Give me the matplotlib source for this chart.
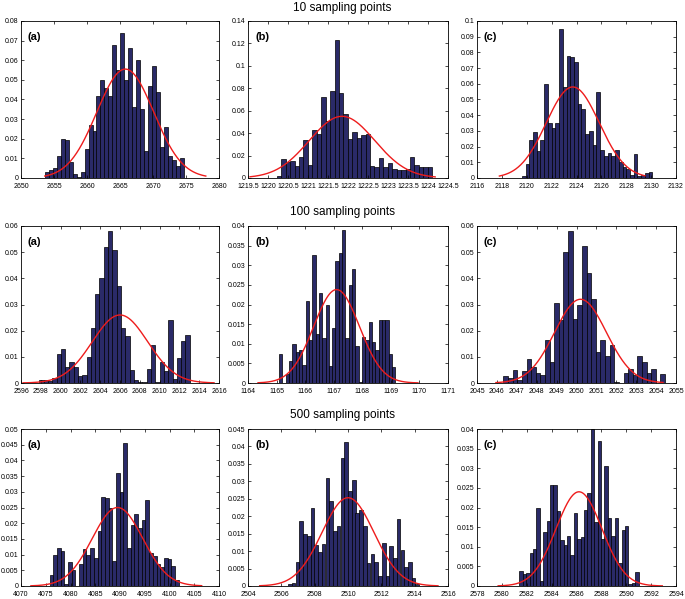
import numpy as np
import matplotlib
matplotlib.use("Agg")
import matplotlib.pyplot as plt

plt.rcParams['font.family'] = ['Liberation Sans', 'DejaVu Sans']

row_titles = ["10 sampling points", "100 sampling points", "500 sampling points"]
panel_labels = ["(a)", "(b)", "(c)"]

# ---- Row 1: 10 sampling points ----
r1a_start, r1a_width = 2653.6, 0.603
r1a_heights = [0.003, 0.004, 0.005, 0.011, 0.020, 0.0195, 0.008, 0.002, 0.0005, 0.003,
               0.015, 0.027, 0.024, 0.042, 0.050, 0.046, 0.042, 0.068, 0.055, 0.074,
               0.050, 0.066, 0.036, 0.060, 0.035, 0.014, 0.047, 0.057, 0.044, 0.016,
               0.026, 0.011, 0.009, 0.006, 0.010]
r1a_fit = dict(mean=2665.8, sd=4.3, peak=0.0555, x0=2653.6, x1=2678.0)
r1a_xlim, r1a_xticks = (2650, 2680), [2650, 2655, 2660, 2665, 2670, 2675, 2680]
r1a_ylim, r1a_ystep = 0.08, 0.01

r1b_start, r1b_width = 1220.22, 0.111
r1b_heights = [0.002, 0.017, 0.014, 0.015, 0.011, 0.019, 0.034, 0.012, 0.043, 0.039,
               0.072, 0.051, 0.078, 0.123, 0.076, 0.057, 0.035, 0.041, 0.036, 0.038,
               0.039, 0.011, 0.010, 0.018, 0.010, 0.013, 0.008, 0.007, 0.007, 0.008,
               0.019, 0.012, 0.010, 0.010, 0.010]
r1b_fit = dict(mean=1221.85, sd=0.82, peak=0.055, x0=1219.55, x1=1224.18)
r1b_xlim, r1b_xticks = (1219.5, 1224.5), [1219.5, 1220, 1220.5, 1221, 1221.5, 1222,
                                          1222.5, 1223, 1223.5, 1224, 1224.5]
r1b_ylim, r1b_ystep = 0.14, 0.02

r1c_start, r1c_width = 2119.6, 0.3
r1c_heights = [0.001, 0.009, 0.024, 0.029, 0.017, 0.024, 0.060, 0.035, 0.032, 0.035,
               0.095, 0.058, 0.078, 0.077, 0.074, 0.047, 0.044, 0.028, 0.030, 0.021,
               0.055, 0.018, 0.014, 0.016, 0.014, 0.018, 0.010, 0.007, 0.006, 0.002,
               0.015, 0.001, 0.002, 0.003, 0.004]
r1c_fit = dict(mean=2123.7, sd=2.13, peak=0.058, x0=2117.8, x1=2129.5)
r1c_xlim, r1c_xticks = (2116, 2132), list(range(2116, 2133, 2))
r1c_ylim, r1c_ystep = 0.1, 0.01

# ---- Row 2: 100 sampling points ----
r2a_start, r2a_width = 2597.85, 0.434
r2a_heights = [0.001, 0.001, 0.0008, 0.002, 0.011, 0.013, 0.006, 0.008, 0.006, 0.0025,
               0.003, 0.010, 0.021, 0.034, 0.040, 0.052, 0.058, 0.051, 0.037, 0.021,
               0.018, 0.005, 0.001, 0.0005, 0.0005, 0.0055, 0.0145, 0.0005, 0.008, 0.0045,
               0.024, 0.0015, 0.0095, 0.016, 0.0185]
r2a_fit = dict(mean=2606.0, sd=2.8, peak=0.026, x0=2596.2, x1=2615.5)
r2a_xlim, r2a_xticks = (2596, 2616), list(range(2596, 2617, 2))
r2a_ylim, r2a_ystep = 0.06, 0.01

r2b_start, r2b_width = 1165.09, 0.116
r2b_heights = [0.0075, 0.0, 0.0023, 0.0055, 0.010, 0.0078, 0.0083, 0.0047, 0.021, 0.011,
               0.0325, 0.0125, 0.023, 0.0115, 0.020, 0.0043, 0.014, 0.031, 0.033, 0.039,
               0.0115, 0.025, 0.029, 0.0095, 0.0003, 0.0118, 0.011, 0.0155, 0.0105, 0.0085,
               0.016, 0.016, 0.016, 0.0075, 0.004]
r2b_fit = dict(mean=1167.1, sd=0.8, peak=0.0238, x0=1164.35, x1=1169.95)
r2b_xlim, r2b_xticks = (1164, 1171), list(range(1164, 1172))
r2b_ylim, r2b_ystep = 0.04, 0.005

r2c_start, r2c_width = 2046.33, 0.232
r2c_heights = [0.0025, 0.002, 0.005, 0.001, 0.0045, 0.009, 0.006, 0.004, 0.003, 0.0165,
               0.008, 0.0305, 0.024, 0.050, 0.058, 0.0245, 0.030, 0.0525, 0.042, 0.032,
               0.012, 0.0165, 0.0105, 0.0145, 0.0005, 0.0, 0.004, 0.0055, 0.003, 0.0105,
               0.008, 0.004, 0.0055, 0.0, 0.0035]
r2c_fit = dict(mean=2050.2, sd=1.3, peak=0.032, x0=2045.95, x1=2054.35)
r2c_xlim, r2c_xticks = (2045, 2055), list(range(2045, 2056))
r2c_ylim, r2c_ystep = 0.06, 0.01

# ---- Row 3: 500 sampling points ----
r3a_start, r3a_width = 4075.77, 0.745
r3a_heights = [0.0035, 0.010, 0.012, 0.0112, 0.0005, 0.0075, 0.0052, 0.0, 0.007, 0.0118,
               0.010, 0.012, 0.009, 0.0175, 0.0285, 0.028, 0.025, 0.008, 0.036, 0.0298,
               0.0455, 0.012, 0.0195, 0.023, 0.0185, 0.021, 0.0275, 0.0105, 0.0095, 0.007,
               0.006, 0.009, 0.0085, 0.0065, 0.002]
r3a_fit = dict(mean=4089.5, sd=5.1, peak=0.025, x0=4072.0, x1=4106.5)
r3a_xlim, r3a_xticks = (4070, 4110), list(range(4070, 4111, 5))
r3a_ylim, r3a_ystep = 0.05, 0.005

r3b_start, r3b_width = 2506.4, 0.225
r3b_heights = [0.0005, 0.001, 0.0068, 0.0185, 0.0148, 0.0142, 0.0225, 0.0118, 0.0098, 0.012,
               0.031, 0.0245, 0.0158, 0.0173, 0.0368, 0.0413, 0.0272, 0.0305, 0.021, 0.0218,
               0.0173, 0.0067, 0.0093, 0.007, 0.0028, 0.0122, 0.0028, 0.0115, 0.008, 0.0192,
               0.0102, 0.0055, 0.0068, 0.0022, 0.0005]
r3b_fit = dict(mean=2510.0, sd=1.56, peak=0.0253, x0=2504.7, x1=2515.4)
r3b_xlim, r3b_xticks = (2504, 2516), list(range(2504, 2517, 2))
r3b_ylim, r3b_ystep = 0.045, 0.005

r3c_start, r3c_width = 2581.4, 0.274
r3c_heights = [0.0038, 0.003, 0.0033, 0.0085, 0.0095, 0.020, 0.0013, 0.0138, 0.0165, 0.0258,
               0.0257, 0.019, 0.0118, 0.0105, 0.0127, 0.0078, 0.0185, 0.012, 0.0125, 0.0193,
               0.0238, 0.040, 0.0163, 0.037, 0.012, 0.0307, 0.0172, 0.0128, 0.0172, 0.0058,
               0.0143, 0.0152, 0.0005, 0.0007, 0.0035]
r3c_fit = dict(mean=2586.2, sd=1.85, peak=0.024, x0=2579.7, x1=2592.9)
r3c_xlim, r3c_xticks = (2578, 2594), list(range(2578, 2595, 2))
r3c_ylim, r3c_ystep = 0.04, 0.005

panels = [
    [(r1a_start, r1a_width, r1a_heights, r1a_fit, r1a_xlim, r1a_xticks, r1a_ylim, r1a_ystep),
     (r1b_start, r1b_width, r1b_heights, r1b_fit, r1b_xlim, r1b_xticks, r1b_ylim, r1b_ystep),
     (r1c_start, r1c_width, r1c_heights, r1c_fit, r1c_xlim, r1c_xticks, r1c_ylim, r1c_ystep)],
    [(r2a_start, r2a_width, r2a_heights, r2a_fit, r2a_xlim, r2a_xticks, r2a_ylim, r2a_ystep),
     (r2b_start, r2b_width, r2b_heights, r2b_fit, r2b_xlim, r2b_xticks, r2b_ylim, r2b_ystep),
     (r2c_start, r2c_width, r2c_heights, r2c_fit, r2c_xlim, r2c_xticks, r2c_ylim, r2c_ystep)],
    [(r3a_start, r3a_width, r3a_heights, r3a_fit, r3a_xlim, r3a_xticks, r3a_ylim, r3a_ystep),
     (r3b_start, r3b_width, r3b_heights, r3b_fit, r3b_xlim, r3b_xticks, r3b_ylim, r3b_ystep),
     (r3c_start, r3c_width, r3c_heights, r3c_fit, r3c_xlim, r3c_xticks, r3c_ylim, r3c_ystep)],
]

W, H = 685, 599
fig = plt.figure(figsize=(W / 100, H / 100), dpi=100)

col_lr = [(21, 219), (248, 448), (477, 676)]
row_tb = [(21, 178), (226, 383), (429, 586)]
title_y = [8, 212, 415]

bar_color = '#2a2a68'
for r in range(3):
    top, bot = row_tb[r]
    fig.text(0.5, 1 - title_y[r] / H, row_titles[r], ha='center', va='center', fontsize=8.5)
    for c in range(3):
        left, right = col_lr[c]
        ax = fig.add_axes([left / W, 1 - bot / H, (right - left) / W, (bot - top) / H])
        start, width, heights, fit, xlim, xticks, ymax, ystep = panels[r][c]
        heights = np.array(heights)
        centers = start + width * (np.arange(len(heights)) + 0.5)
        ax.bar(centers, heights, width=width, color=bar_color, edgecolor='black',
               linewidth=0.5, align='center')
        xs = np.linspace(fit['x0'], fit['x1'], 300)
        ys = fit['peak'] * np.exp(-0.5 * ((xs - fit['mean']) / fit['sd']) ** 2)
        ax.plot(xs, ys, color='#ee1c1c', linewidth=1.0)
        ax.set_xlim(*xlim)
        ax.set_ylim(0, ymax)
        ax.set_xticks(xticks)
        ax.set_xticklabels(['%g' % t for t in xticks])
        yt = np.round(np.arange(0, ymax + ystep / 2, ystep), 4)
        ax.set_yticks(yt)
        ax.set_yticklabels(['%g' % t for t in yt])
        ax.tick_params(direction='in', top=True, right=True, labelsize=5,
                       length=2.5, width=0.5)
        ax.tick_params(axis='x', pad=3.5)
        ax.tick_params(axis='y', pad=2)
        for s in ax.spines.values():
            s.set_linewidth(0.6)
        ax.text(0.035, 0.93, panel_labels[c], transform=ax.transAxes, fontsize=8,
                fontweight='bold', ha='left', va='top')

fig.savefig('out.png', dpi=100)
